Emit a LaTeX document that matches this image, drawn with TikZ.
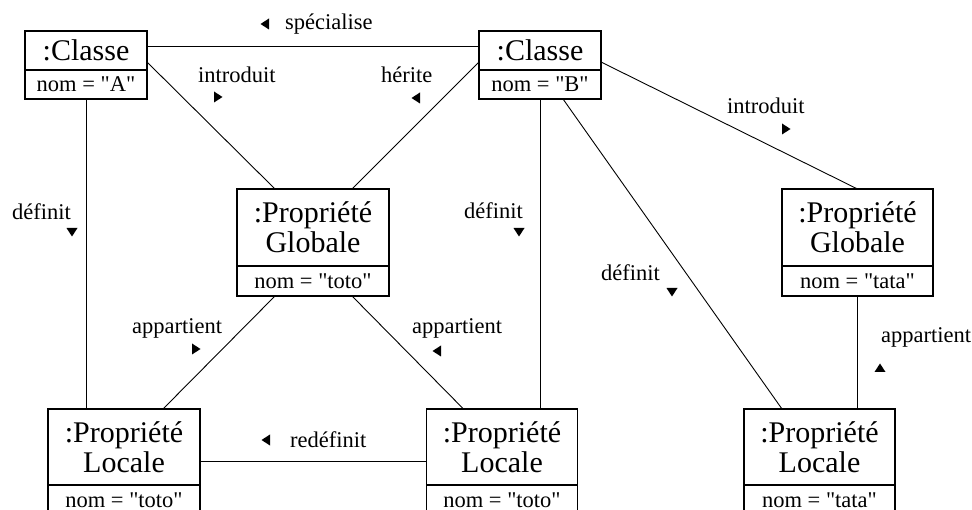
\documentclass[tikz,border=0pt]{standalone}
\usepackage{fontspec}
\setmainfont{Liberation Serif}
% plain family, without the TeX quote mapping, so " stays a straight quote
\newfontfamily\diagfont{Liberation Serif}
\usetikzlibrary{calc}
\newcommand\objnamesize{\diagfont\fontsize{30}{30}\selectfont}
\newcommand\objattrsize{\diagfont\fontsize{22.5}{24}\selectfont}

\begin{document}
\begin{tikzpicture}[x=1pt, y=-1pt,
  objname/.style={draw, line width=1.2pt, inner sep=0pt, outer sep=0pt,
    anchor=north, align=center, font=\objnamesize},
  objattr/.style={draw, line width=1.2pt, inner sep=0pt, outer sep=0pt,
    anchor=north, font=\objattrsize},
  link/.style={line width=0.9pt},
  rolelabel/.style={anchor=base west, inner sep=0pt, font=\objattrsize},
  pics/dirmark/.style={code={\fill (4.5pt,0pt) -- (-4pt,5.5pt) -- (-4pt,-5.5pt) -- cycle;}}
]
\useasboundingbox (0,0) rectangle (972,510);
\clip (0,0) rectangle (972,510);

% class objects
\node[objname, minimum width=122pt, minimum height=39pt] (A) at (86,31) {:Classe};
\node[objattr, minimum width=122pt, minimum height=29pt] (Aa) at (A.south) {nom = "A"};
\node[objname, minimum width=122pt, minimum height=39pt] (B) at (540,31) {:Classe};
\node[objattr, minimum width=122pt, minimum height=29pt] (Ba) at (B.south) {nom = "B"};

% global properties
\node[objname, minimum width=152pt, minimum height=77pt] (GT) at (313,189) {:Propriété\\Globale};
\node[objattr, minimum width=152pt, minimum height=30pt] (GTa) at (GT.south) {nom = "toto"};
\node[objname, minimum width=151pt, minimum height=77pt] (GA) at (857.5,189) {:Propriété\\Globale};
\node[objattr, minimum width=151pt, minimum height=30pt] (GAa) at (GA.south) {nom = "tata"};

% local properties
\node[objname, minimum width=152pt, minimum height=76pt] (LL) at (124,409) {:Propriété\\Locale};
\node[objattr, minimum width=152pt, minimum height=30pt] (LLa) at (LL.south) {nom = "toto"};
\node[objname, minimum width=151pt, minimum height=76pt] (LM) at (502,409) {:Propriété\\Locale};
\node[objattr, minimum width=151pt, minimum height=30pt] (LMa) at (LM.south) {nom = "toto"};
\node[objname, minimum width=151pt, minimum height=76pt] (LR) at (819.5,409) {:Propriété\\Locale};
\node[objattr, minimum width=151pt, minimum height=30pt] (LRa) at (LR.south) {nom = "tata"};

% links
\draw[link] ($(A.north east)+(0,15)$) -- ($(B.north west)+(0,15)$);
\draw[link] ($(A.north east)+(0,31)$) -- ($(GT.north west)+(38,0)$);
\draw[link] ($(B.north west)+(0,31)$) -- ($(GT.north east)+(-37,0)$);
\coordinate (Acol) at ($(Aa.south west)+(61.5,0)$);
\draw[link] (Acol) -- (Acol |- LL.north);
\draw[link] (Ba.south) -- (Ba.south |- LM.north);
\draw[link] ($(Ba.south)+(23,0)$) -- ($(LR.north west)+(38,0)$);
\draw[link] ($(B.north east)+(0,31)$) -- (GA.north);
\draw[link] (GAa.south) -- (GAa.south |- LR.north);
\draw[link] ($(GTa.south west)+(38,0)$) -- ($(LL.north east)+(-37,0)$);
\draw[link] ($(GTa.south east)+(-37,0)$) -- ($(LM.north west)+(37,0)$);
\coordinate (Lrow) at ($(LL.north east)+(0,52)$);
\draw[link] (Lrow) -- (Lrow -| LM.west);

% role names with reading direction
\node[rolelabel] (l1) at (285,30) {spécialise};
\pic[rotate=180] at (265,24) {dirmark};
\node[rolelabel] (l2) at (198,83) {introduit};
\pic at (218,97) {dirmark};
\node[rolelabel] (l3) at (381,83) {hérite};
\pic[rotate=180] at (416,98) {dirmark};
\node[rolelabel] (l4) at (12,220) {définit};
\pic[rotate=-90] at (72,232) {dirmark};
\node[rolelabel] (l5) at (464,219) {définit};
\pic[rotate=-90] at (519,232) {dirmark};
\node[rolelabel] (l6) at (601,281) {définit};
\pic[rotate=-90] at (672,292) {dirmark};
\node[rolelabel] (l7) at (727,114) {introduit};
\pic at (786,129) {dirmark};
\node[rolelabel] (l8) at (132,334) {appartient};
\pic at (196,349) {dirmark};
\node[rolelabel] (l9) at (412,334) {appartient};
\pic[rotate=180] at (437,351) {dirmark};
\node[rolelabel] (l10) at (881,343) {appartient};
\pic[rotate=90] at (880,368) {dirmark};
\node[rolelabel] (l11) at (290,447) {redéfinit};
\pic[rotate=180] at (266,440) {dirmark};
\end{tikzpicture}
\end{document}
